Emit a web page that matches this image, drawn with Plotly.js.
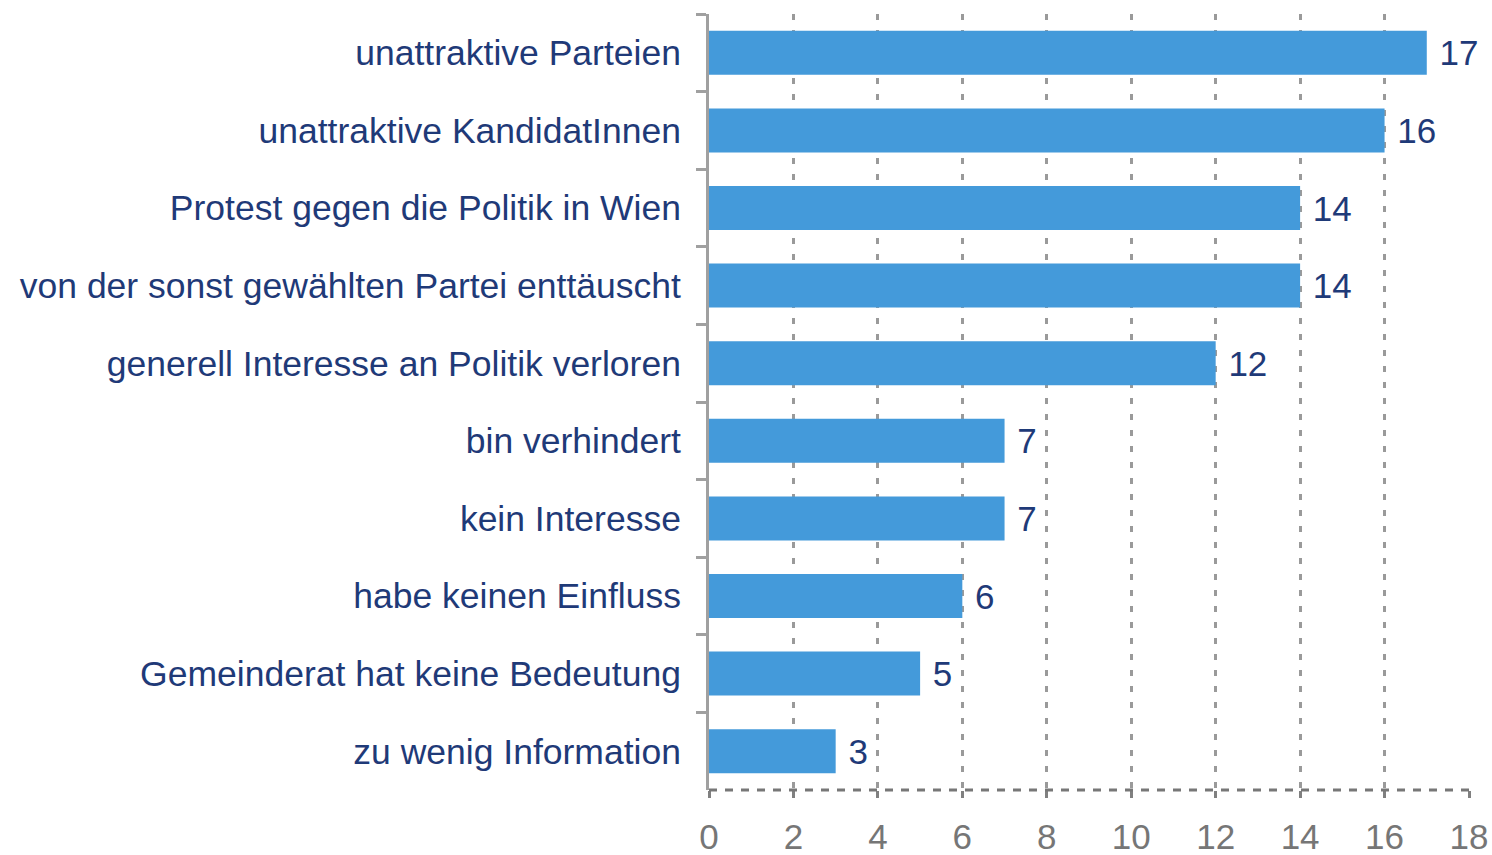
<!DOCTYPE html>
<html>
<head>
<meta charset="utf-8">
<script src="https://cdn.plot.ly/plotly-3.0.1.min.js"></script>
<style>
html, body { margin: 0; padding: 0; background: #ffffff; }
#chart { width: 1492px; height: 855px; }
</style>
</head>
<body>
<div id="chart"></div>
<script>
const categories = [
  "unattraktive Parteien",
  "unattraktive KandidatInnen",
  "Protest gegen die Politik in Wien",
  "von der sonst gewählten Partei enttäuscht",
  "generell Interesse an Politik verloren",
  "bin verhindert",
  "kein Interesse",
  "habe keinen Einfluss",
  "Gemeinderat hat keine Bedeutung",
  "zu wenig Information"
];
const values = [17, 16, 14, 14, 12, 7, 7, 6, 5, 3];
const xTickValues = [0, 2, 4, 6, 8, 10, 12, 14, 16, 18];

const navy = "#1f3a78";
const greyText = "#767676";
const fontFamily = "'Liberation Sans', Arial, sans-serif";

const trace = {
  type: "bar",
  orientation: "h",
  y: categories,
  x: values,
  text: values.map(v => "\u00a0" + v),
  textposition: "outside",
  textfont: { family: fontFamily, size: 35, color: navy },
  constraintext: "none",
  cliponaxis: false,
  marker: { color: "#449ada" },
  hoverinfo: "none"
};

const layout = {
  width: 1492,
  height: 855,
  margin: { l: 709, r: 23, t: 14, b: 65, pad: 0 },
  paper_bgcolor: "#ffffff",
  plot_bgcolor: "#ffffff",
  showlegend: false,
  bargap: 0.433,
  font: { family: fontFamily, size: 35, color: navy },
  xaxis: {
    range: [0, 18],
    tickvals: xTickValues,
    ticktext: xTickValues.map(String),
    showgrid: true,
    gridcolor: "#9a9a9a",
    gridwidth: 3,
    griddash: "6px,10px",
    zeroline: false,
    showline: false,
    ticks: "outside",
    ticklen: 7,
    tickwidth: 3,
    tickcolor: "#808080",
    ticklabelstandoff: 9,
    tickfont: { family: fontFamily, size: 35, color: greyText },
    fixedrange: true
  },
  yaxis: {
    type: "category",
    range: [9.5, -0.5],
    tickson: "boundaries",
    ticks: "outside",
    ticklen: 10,
    tickwidth: 3,
    tickcolor: "#a0a0a0",
    showline: true,
    linecolor: "#a0a0a0",
    linewidth: 3,
    showgrid: false,
    zeroline: false,
    ticklabelstandoff: 18,
    tickfont: { family: fontFamily, size: 35.5, color: navy },
    fixedrange: true
  },
  shapes: [{
    type: "line",
    xref: "paper", yref: "paper",
    x0: 0, x1: 1, y0: 0, y1: 0,
    line: { color: "#777777", width: 3, dash: "8px,8px" },
    layer: "above"
  }]
};

Plotly.newPlot("chart", [trace], layout, { displayModeBar: false, staticPlot: true });
</script>
</body>
</html>
